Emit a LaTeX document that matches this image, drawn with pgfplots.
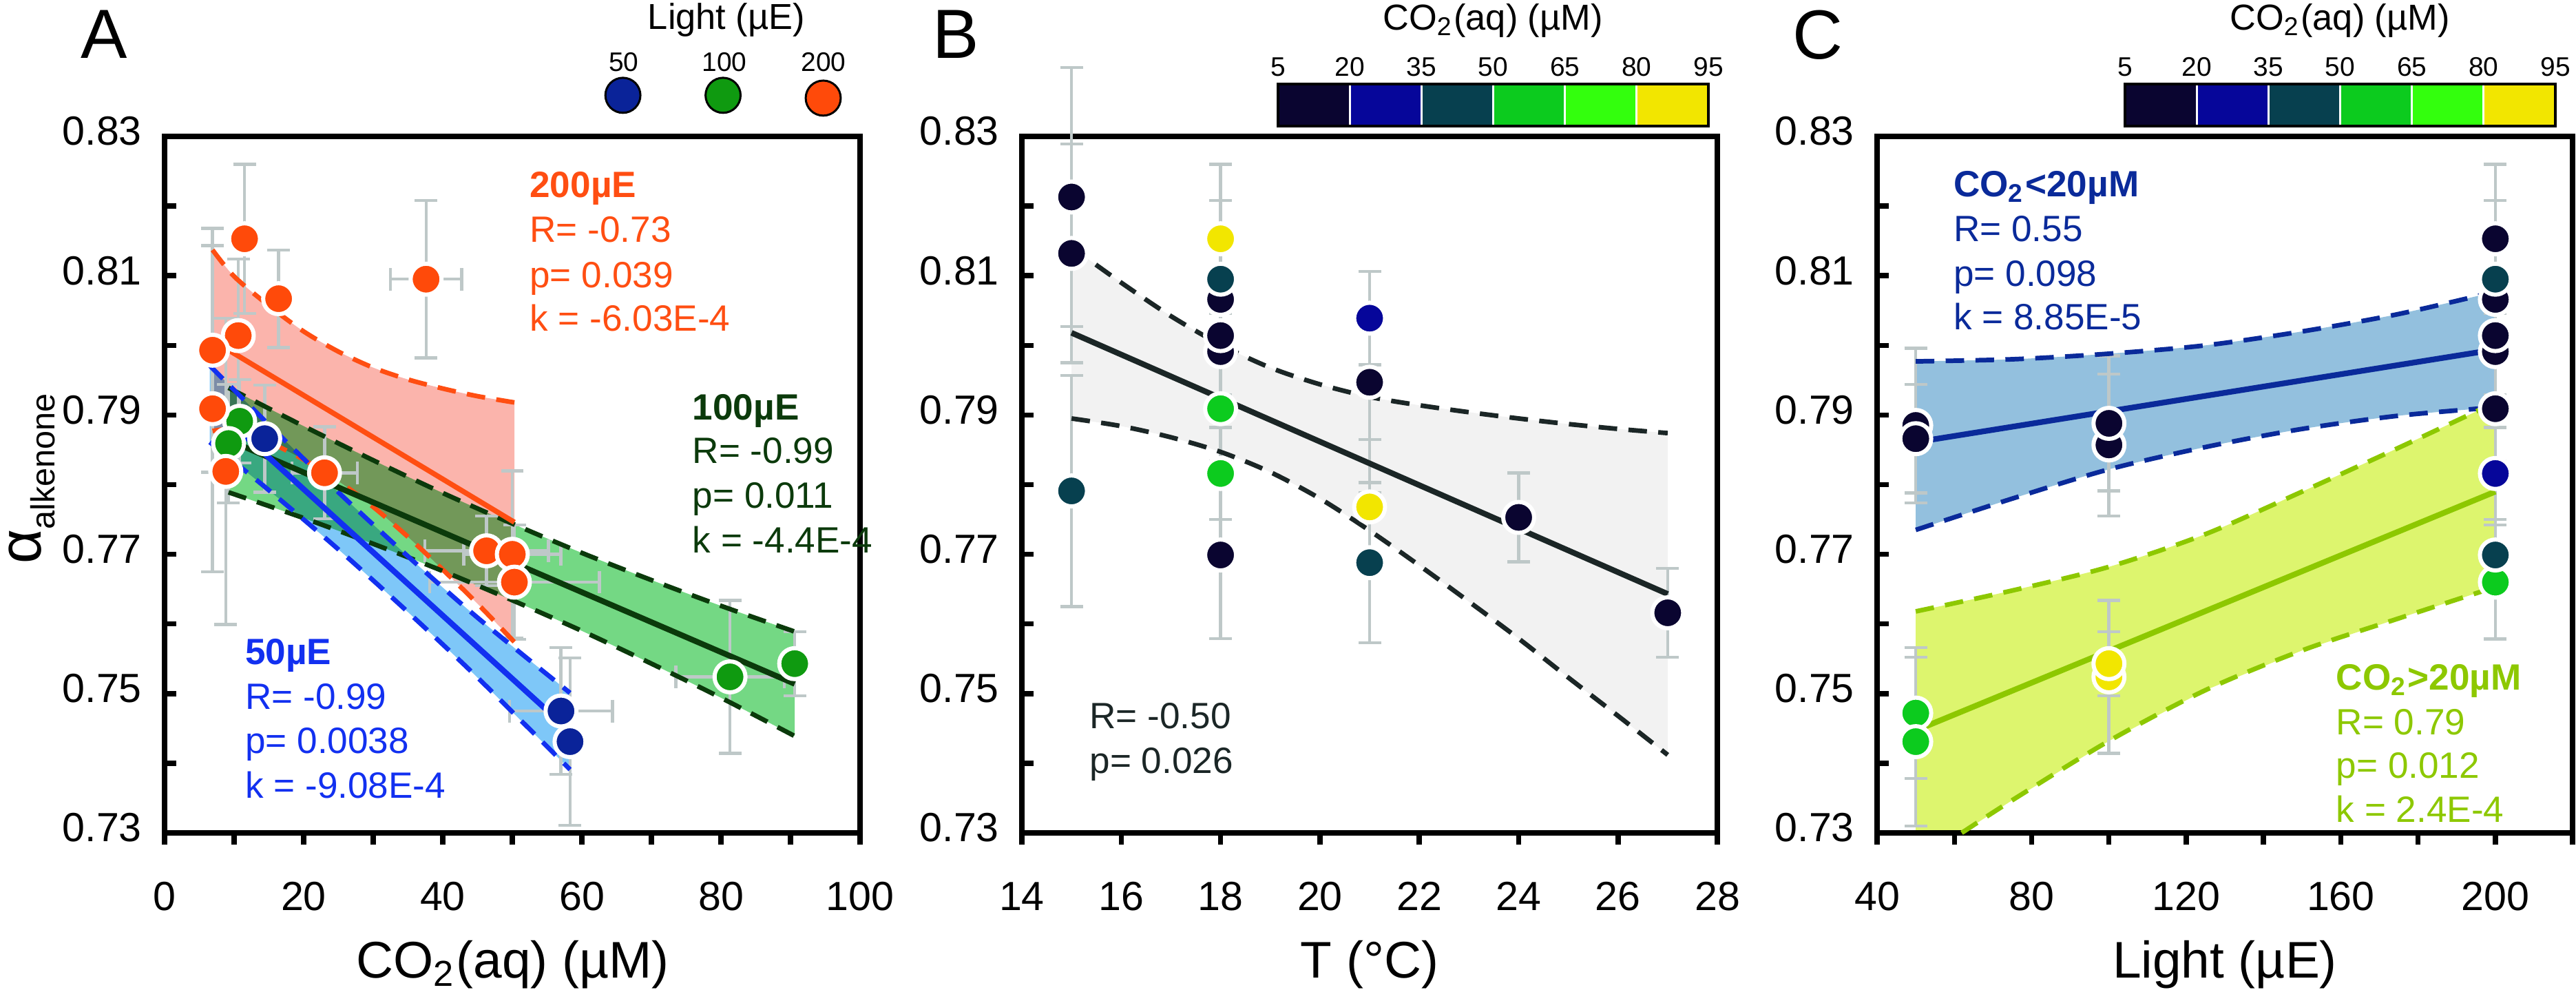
\documentclass[border=0pt]{standalone}
\usepackage{fontspec}
\setmainfont{Liberation Sans}
\usepackage{pgfplots}
\pgfplotsset{compat=1.18}
\usepackage{pgfplotstable}
\usepgfplotslibrary{fillbetween}

\definecolor{cGray}{HTML}{BEC8C8}
\definecolor{cOrange}{HTML}{FF4A0A}
\definecolor{cOrLine}{HTML}{FF4E12}
\definecolor{cPink}{HTML}{FBB4AC}
\definecolor{cGreenPt}{HTML}{0F9A10}
\definecolor{cGreenBand}{HTML}{74D884}
\definecolor{cDkGreen}{HTML}{0B3A0B}
\definecolor{cBluePt}{HTML}{0A2399}
\definecolor{cBlueLine}{HTML}{1230F0}
\definecolor{cBlueBand}{HTML}{7EC7F8}
\definecolor{cGrayBand}{HTML}{F2F2F2}
\definecolor{cLineB}{HTML}{1B2626}
\definecolor{cCBand}{HTML}{93C0DE}
\definecolor{cCBlue}{HTML}{0A2A9A}
\definecolor{cLimeBand}{HTML}{DDF56E}
\definecolor{cLime}{HTML}{8DC800}
% CO2 classes
\definecolor{cN}{HTML}{0A0530}
\definecolor{cB}{HTML}{06069A}
\definecolor{cT}{HTML}{07404F}
\definecolor{cG}{HTML}{0CCB1E}
\definecolor{cBG}{HTML}{33FF0D}
\definecolor{cY}{HTML}{F2E600}

\newcommand\ftick{\fontsize{7.9}{9}\selectfont}
\newcommand\fann{\fontsize{7.1}{8.6}\selectfont}
\newcommand\flab{\fontsize{10}{12}\selectfont}
\newcommand\fttl{\fontsize{7}{8.4}\selectfont}
\newcommand\fsml{\fontsize{5.2}{6}\selectfont}
\newcommand\flet{\fontsize{13.5}{16}\selectfont}

% ---- panel A data: x = CO2 (uM), y = alpha
\pgfplotstableread{
x y ex ey
11.5 0.8153 0 0.0107
16.4 0.8067 0 0.0070
37.6 0.8095 5.1 0.0113
10.6 0.8014 0 0.0110
6.9 0.7993 0 0.0175
6.9 0.7909 0 0.0234
8.8 0.7819 0 0.0220
23.0 0.7817 4.7 0.0066
46.3 0.7705 8.9 0.0050
50.0 0.7700 7.0 0.0120
50.3 0.7660 12.2 0.0082
}\ptsAo
\pgfplotstableread{
x y ex ey
10.8 0.7891 0 0.0060
9.2 0.7859 0 0.0085
81.3 0.7524 7.8 0.0110
90.6 0.7543 1.7 0.0046
}\ptsAg
\pgfplotstableread{
x y ex ey
14.4 0.7866 0 0.0077
57.0 0.7475 7.4 0.0091
58.3 0.7431 0 0.0120
}\ptsAb
\pgfplotstableread{
x up lo
6.9 0.8137 0.7877
10 0.8099 0.7879
15 0.8057 0.7861
20 0.8020 0.7836
25 0.7991 0.7805
30 0.7968 0.7768
35 0.7951 0.7725
40 0.7938 0.7678
45 0.7927 0.7629
50.3 0.7918 0.7574
}\bandAo
\pgfplotstableread{
x up lo
9.2 0.7939 0.7789
20 0.7884 0.7752
30 0.7835 0.7715
40 0.7788 0.7676
50 0.7744 0.7634
60 0.7702 0.7590
70 0.7663 0.7543
80 0.7626 0.7494
90.6 0.7589 0.7439
}\bandAg
\pgfplotstableread{
x up lo
6.5 0.7971 0.7861
15 0.7886 0.7792
25 0.7789 0.7707
35 0.7697 0.7617
45 0.7609 0.7523
58.3 0.7501 0.7391
}\bandAb

% ---- panel B data: x = T (C)
\pgfplotstableread{
x y ey c
15 0.8213 0.0186 n
15 0.8132 0.0157 n
15 0.7791 0.0166 t
18 0.7699 0.0120 n
18 0.7816 0.0066 g
18 0.7909 0.0075 g
18 0.7991 0.0080 n
18 0.8014 0.0085 n
18 0.8066 0.0080 n
18 0.8095 0.0113 t
18 0.8153 0.0107 y
21 0.8039 0.0067 b
21 0.7947 0.0159 n
21 0.7768 0.0097 y
21 0.7688 0.0115 t
24 0.7753 0.0064 n
27 0.7616 0.0064 n
}\ptsB
\pgfplotstableread{
x up lo
15 0.8141 0.7895
16 0.8090 0.7884
17 0.8042 0.7868
18 0.8001 0.7847
19 0.7968 0.7818
20 0.7944 0.7780
21 0.7926 0.7734
22 0.7914 0.7684
23 0.7904 0.7632
24 0.7895 0.7579
25 0.7887 0.7523
26 0.7880 0.7468
27 0.7874 0.7412
}\bandB

% ---- panel C data: x = light (uE)
\pgfplotstableread{
x y ey c
50 0.7472 0.0094 g
50 0.7431 0.0121 g
50 0.7885 0.0111 n
50 0.7866 0.0078 n
100 0.7524 0.0110 y
100 0.7543 0.0046 y
100 0.7857 0.0102 n
100 0.7888 0.0097 n
200 0.7660 0.0082 g
200 0.7699 0.0120 t
200 0.7816 0.0066 b
200 0.7909 0.0075 n
200 0.7991 0.0080 n
200 0.8014 0.0085 n
200 0.8066 0.0080 n
200 0.8095 0.0113 t
200 0.8153 0.0107 n
}\ptsC
\pgfplotstableread{
x up lo
50 0.7977 0.7735
75 0.7980 0.7780
100 0.7988 0.7822
125 0.8000 0.7854
150 0.8020 0.7880
175 0.8045 0.7899
200 0.8077 0.7911
}\bandCb
\pgfplotstableread{
x up
50 0.7618
75 0.7648
100 0.7682
125 0.7729
150 0.7790
175 0.7853
200 0.7918
}\bandClu
\pgfplotstableread{
x lo
61.9 0.7300
75 0.7347
100 0.7432
125 0.7505
150 0.7562
175 0.7608
200 0.7653
}\bandCll
\pgfplotstableread{
x lo
50 0.7300
61.9 0.7300
75 0.7347
100 0.7432
125 0.7505
150 0.7562
175 0.7608
200 0.7653
}\bandClf

\pgfplotsset{
  panel/.style={
    scale only axis, width=135pt, height=135.12pt, anchor=south west,
    clip=false,
    ymin=0.73, ymax=0.83,
    ytick={0.73,0.74,0.75,0.76,0.77,0.78,0.79,0.80,0.81,0.82,0.83},
    yticklabels={0.73,,0.75,,0.77,,0.79,,0.81,,0.83},
    tick pos=left, tick align=inside,
    major tick length=2.3pt,
    major tick style={black, line width=1pt},
    xtick style={yshift=-2.3pt},
    axis line style={line width=1pt},
    xticklabel style={font=\ftick, anchor=base, yshift=-15pt},
    yticklabel style={font=\ftick, anchor=east, xshift=-0.9pt, yshift=1pt},
  },
  ebar/.style={forget plot, draw=none, mark=none,
    error bars/.cd, y dir=both, y explicit,
    error bar style={draw=cGray, line width=0.6pt},
    error mark options={draw=cGray, line width=0.6pt, mark size=2.2pt, rotate=90}},
  ebarxy/.style={forget plot, draw=none, mark=none,
    error bars/.cd, y dir=both, y explicit, x dir=both, x explicit,
    error bar style={draw=cGray, line width=0.6pt},
    error mark options={draw=cGray, line width=0.6pt, mark size=2.2pt, rotate=90}},
  pts/.style={only marks, mark=*, mark size=3pt,
    mark options={draw=white, line width=0.8pt, fill=#1}},
  dashb/.style={draw=#1, line width=0.9pt, dash pattern=on 3.6pt off 2.2pt, smooth},
  hid/.style={draw=none, smooth},
  co2cls/.style={scatter, only marks, mark=*, mark size=3pt,
    point meta=explicit symbolic,
    mark options={draw=white, line width=0.8pt},
    scatter/classes={
      n={fill=cN}, b={fill=cB}, t={fill=cT}, g={fill=cG}, y={fill=cY}}},
}

\begin{document}
\begin{tikzpicture}

% ================= A =================
\begin{axis}[panel, at={(31.94pt,32.48pt)},
  xmin=0, xmax=100, xtick={0,10,...,100},
  xticklabels={0,,20,,40,,60,,80,,100}]
\addplot[ebarxy] table[x=x, y=y, x error=ex, y error=ey] {\ptsAo};
\addplot[ebarxy] table[x=x, y=y, x error=ex, y error=ey] {\ptsAg};
\addplot[ebarxy] table[x=x, y=y, x error=ex, y error=ey] {\ptsAb};

\addplot[hid, name path=oU] table[x=x, y=up] {\bandAo};
\addplot[hid, name path=oL] table[x=x, y=lo] {\bandAo};
\addplot[fill=cPink, blend mode=multiply] fill between[of=oU and oL];
\addplot[hid, name path=gU] table[x=x, y=up] {\bandAg};
\addplot[hid, name path=gL] table[x=x, y=lo] {\bandAg};
\addplot[fill=cGreenBand, blend mode=multiply] fill between[of=gU and gL];
\addplot[hid, name path=bU] table[x=x, y=up] {\bandAb};
\addplot[hid, name path=bL] table[x=x, y=lo] {\bandAb};
\addplot[fill=cBlueBand, blend mode=multiply] fill between[of=bU and bL];

\addplot[dashb=cOrLine] table[x=x, y=up] {\bandAo};
\addplot[dashb=cOrLine] table[x=x, y=lo] {\bandAo};
\addplot[dashb=cDkGreen] table[x=x, y=up] {\bandAg};
\addplot[dashb=cDkGreen] table[x=x, y=lo] {\bandAg};
\addplot[dashb=cBlueLine] table[x=x, y=up] {\bandAb};
\addplot[dashb=cBlueLine] table[x=x, y=lo] {\bandAb};
\addplot[cOrLine, line width=1pt] coordinates {(6.9,0.8007) (50.3,0.7746)};
\addplot[cDkGreen, line width=1.1pt] coordinates {(9.2,0.7864) (90.6,0.7514)};
\addplot[cBlueLine, line width=1.1pt] coordinates {(6.5,0.7916) (58.3,0.7446)};

\addplot[pts=cGreenPt] table[x=x, y=y] {\ptsAg};
\addplot[pts=cBluePt] table[x=x, y=y] {\ptsAb};
\addplot[pts=cOrange] table[x=x, y=y] {\ptsAo};

% light legend
\addplot[only marks, mark=*, mark size=3.4pt, mark options={draw=none, fill=cBluePt}] coordinates {(65.9,0.8359)};
\addplot[only marks, mark=*, mark size=3.4pt, mark options={draw=none, fill=cGreenPt}] coordinates {(80.3,0.8359)};
\addplot[only marks, mark=*, mark size=3.4pt, mark options={draw=none, fill=cOrange}] coordinates {(94.7,0.8355)};

\node[anchor=base west, font=\fann\bfseries, text=cOrLine] at (axis cs:49.9,0.8212) {200µE};
\node[anchor=base west, font=\fann, text=cOrLine] at (axis cs:49.9,0.8148) {R= -0.73};
\node[anchor=base west, font=\fann, text=cOrLine] at (axis cs:49.9,0.8083) {p= 0.039};
\node[anchor=base west, font=\fann, text=cOrLine] at (axis cs:49.9,0.8021) {k = -6.03E-4};
\node[anchor=base west, font=\fann\bfseries, text=cDkGreen] at (axis cs:73.3,0.7893) {100µE};
\node[anchor=base west, font=\fann, text=cDkGreen] at (axis cs:73.3,0.7831) {R= -0.99};
\node[anchor=base west, font=\fann, text=cDkGreen] at (axis cs:73.3,0.7766) {p= 0.011};
\node[anchor=base west, font=\fann, text=cDkGreen] at (axis cs:73.3,0.7702) {k = -4.4E-4};
\node[anchor=base west, font=\fann\bfseries, text=cBlueLine] at (axis cs:9.0,0.7542) {50µE};
\node[anchor=base west, font=\fann, text=cBlueLine] at (axis cs:9.0,0.7478) {R= -0.99};
\node[anchor=base west, font=\fann, text=cBlueLine] at (axis cs:9.0,0.7414) {p= 0.0038};
\node[anchor=base west, font=\fann, text=cBlueLine] at (axis cs:9.0,0.7350) {k = -9.08E-4};
\end{axis}

% ================= B =================
\begin{axis}[panel, at={(198.34pt,32.48pt)},
  xmin=14, xmax=28, xtick={14,16,...,28},
  xticklabels={14,16,18,20,22,24,26,28}]
\addplot[ebar] table[x=x, y=y, y error=ey] {\ptsB};
\addplot[hid, name path=BU] table[x=x, y=up] {\bandB};
\addplot[hid, name path=BL] table[x=x, y=lo] {\bandB};
\addplot[fill=cGrayBand, blend mode=multiply] fill between[of=BU and BL];
\addplot[dashb=cLineB] table[x=x, y=up] {\bandB};
\addplot[dashb=cLineB] table[x=x, y=lo] {\bandB};
\addplot[cLineB, line width=1.1pt] coordinates {(15,0.8018) (27,0.7643)};
\addplot[co2cls] table[x=x, y=y, meta=c] {\ptsB};
\node[anchor=base west, font=\fann, text=cLineB] at (axis cs:15.0,0.7450) {R= -0.50};
\node[anchor=base west, font=\fann, text=cLineB] at (axis cs:15.0,0.7386) {p= 0.026};
\end{axis}

% ================= C =================
\begin{axis}[panel, at={(364.34pt,32.48pt)},
  xmin=40, xmax=220, xtick={40,60,...,220},
  xticklabels={40,,80,,120,,160,,200,}]
\addplot[ebar] table[x=x, y=y, y error=ey] {\ptsC};
\addplot[hid, name path=CU] table[x=x, y=up] {\bandCb};
\addplot[hid, name path=CL] table[x=x, y=lo] {\bandCb};
\addplot[fill=cCBand, blend mode=multiply] fill between[of=CU and CL];
\addplot[hid, name path=LU] table[x=x, y=up] {\bandClu};
\addplot[draw=none, name path=LF] table[x=x, y=lo] {\bandClf};
\addplot[fill=cLimeBand, blend mode=multiply] fill between[of=LU and LF];
\addplot[dashb=cCBlue] table[x=x, y=up] {\bandCb};
\addplot[dashb=cCBlue] table[x=x, y=lo] {\bandCb};
\addplot[dashb=cLime] table[x=x, y=up] {\bandClu};
\addplot[dashb=cLime] table[x=x, y=lo] {\bandCll};
\addplot[cCBlue, line width=1.1pt] coordinates {(50,0.7861) (200,0.7994)};
\addplot[cLime, line width=1.1pt] coordinates {(50,0.7447) (200,0.7790)};
\addplot[co2cls] table[x=x, y=y, meta=c] {\ptsC};
\node[anchor=base west, font=\fann\bfseries, text=cCBlue] at (axis cs:55.1,0.8213) {CO\textsubscript{2}<20µM};
\node[anchor=base west, font=\fann, text=cCBlue] at (axis cs:55.1,0.8149) {R= 0.55};
\node[anchor=base west, font=\fann, text=cCBlue] at (axis cs:55.1,0.8085) {p= 0.098};
\node[anchor=base west, font=\fann, text=cCBlue] at (axis cs:55.1,0.8023) {k = 8.85E-5};
\node[anchor=base west, font=\fann\bfseries, text=cLime] at (axis cs:154.1,0.7505) {CO\textsubscript{2}>20µM};
\node[anchor=base west, font=\fann, text=cLime] at (axis cs:154.1,0.7441) {R= 0.79};
\node[anchor=base west, font=\fann, text=cLime] at (axis cs:154.1,0.7379) {p= 0.012};
\node[anchor=base west, font=\fann, text=cLime] at (axis cs:154.1,0.7315) {k = 2.4E-4};
\end{axis}

% ============ labels, legend titles, colour bars (pixel units) ============
\begin{scope}[x=0.13365pt, y=0.13365pt]
\node[font=\flet] at (151,1402) {A};
\node[font=\flet] at (1388,1402) {B};
\node[font=\flet] at (2640,1401) {C};
\node[rotate=90, anchor=base west, inner sep=0pt] at (60,632)
  {\fontsize{11.6}{13}\selectfont α\raisebox{-2.6pt}{\fontsize{6.5}{7}\selectfont alkenone}};
\node[font=\flab, anchor=base] at (744.5,32) {CO\textsubscript{2}(aq) (µM)};
\node[font=\flab, anchor=base] at (1989,32) {T (°C)};
\node[font=\flab, anchor=base] at (3231,32) {Light (µE)};
% light legend text
\node[font=\fttl, anchor=base] at (1055,1410) {Light (µE)};
\node[font=\fsml, anchor=base] at (906,1349) {50};
\node[font=\fsml, anchor=base] at (1052,1349) {100};
\node[font=\fsml, anchor=base] at (1196,1349) {200};
% colour bars
\foreach \xs/\tx in {1856/2168, 3086/3398} {
  \foreach \c [count=\i from 0] in {cN,cB,cT,cG,cBG,cY} {
    \fill[\c, draw=white, line width=0.4pt] ({\xs+\i*104.17},1269) rectangle ({\xs+(\i+1)*104.17},1330);
  }
  \draw[black, line width=0.45pt] (\xs,1269) rectangle ({\xs+625},1330);
  \foreach \v [count=\i from 0] in {5,20,35,50,65,80,95} {
    \node[font=\fsml, anchor=base] at ({\xs+\i*104.17},1342) {\v};
  }
  \node[font=\fttl, anchor=base] at (\tx,1409) {CO\textsubscript{2}(aq) (µM)};
}
\end{scope}
\pgfresetboundingbox
\path[use as bounding box] (0,0) rectangle (500pt,194.07pt);
\end{tikzpicture}
\end{document}
